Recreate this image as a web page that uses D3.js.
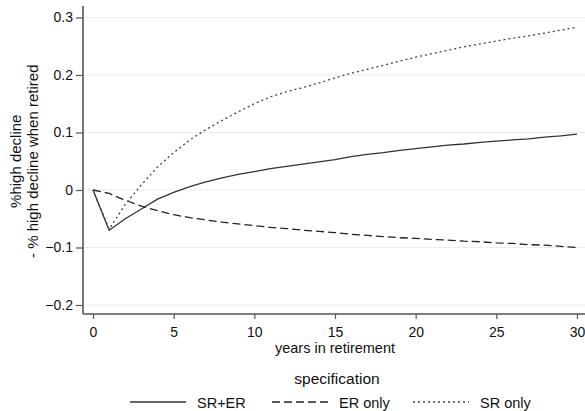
<!DOCTYPE html>
<html>
<head>
<meta charset="utf-8">
<script src="https://cdn.jsdelivr.net/npm/d3@7"></script>
<style>
  body { margin: 0; background: #fff; }
  svg { display: block; font-family: "Liberation Sans", Arial, sans-serif; }
</style>
</head>
<body>
<div id="chart"></div>
<script>
// years 0..30, one value per year
const years = d3.range(0, 31);

const srEr = [0, -0.070, -0.050, -0.033, -0.016, -0.004, 0.006, 0.014, 0.021, 0.027,
  0.032, 0.037, 0.041, 0.045, 0.049, 0.053, 0.058, 0.062, 0.065, 0.069,
  0.072, 0.075, 0.078, 0.080, 0.083, 0.085, 0.087, 0.089, 0.092, 0.094, 0.097];

const erOnly = [0, -0.006, -0.018, -0.028, -0.036, -0.043, -0.048, -0.052, -0.056, -0.059,
  -0.062, -0.065, -0.067, -0.070, -0.072, -0.074, -0.077, -0.079, -0.081, -0.083,
  -0.084, -0.086, -0.087, -0.089, -0.090, -0.092, -0.093, -0.095, -0.096, -0.098, -0.100];

const srOnly = [0, -0.068, -0.025, 0.009, 0.040, 0.065, 0.087, 0.105, 0.121, 0.136,
  0.150, 0.162, 0.171, 0.178, 0.186, 0.195, 0.203, 0.210, 0.217, 0.224,
  0.231, 0.237, 0.243, 0.249, 0.254, 0.259, 0.264, 0.268, 0.273, 0.278, 0.283];

const xTicks = [0, 5, 10, 15, 20, 25, 30];
const yTicks = [-0.2, -0.1, 0, 0.1, 0.2, 0.3];

const seriesNames = ['SR+ER', 'ER only', 'SR only'];
const seriesData  = [srEr, erOnly, srOnly];

const W = 585, H = 411;
const plot = { left: 83, right: 585, top: 6, bottom: 314 };

const svg = d3.select('#chart').append('svg')
  .attr('width', W).attr('height', H);

const x = d3.scaleLinear().domain([0, 30]).range([93, 577]);
const y = d3.scaleLinear().domain([-0.2, 0.3]).range([305, 17.5]);

const styles = {
  'SR+ER':   { stroke: '#333', dash: null,  width: 1.3 },
  'ER only': { stroke: '#222', dash: '8,4', width: 1.3 },
  'SR only': { stroke: '#444', dash: '2,3', width: 1.3 },
};

// grid
svg.append('g').selectAll('line').data(yTicks).join('line')
  .attr('x1', plot.left).attr('x2', plot.right)
  .attr('y1', d => y(d)).attr('y2', d => y(d))
  .attr('stroke', '#e6eeef').attr('stroke-width', 1);

// series
const line = d3.line().x((d, i) => x(years[i])).y(d => y(d));
seriesNames.forEach((name, k) => {
  const s = styles[name];
  svg.append('path').datum(seriesData[k])
    .attr('d', line)
    .attr('fill', 'none')
    .attr('stroke', s.stroke)
    .attr('stroke-width', s.width)
    .attr('stroke-dasharray', s.dash);
});

// axes
const axisColor = '#555';
const yAxis = svg.append('g').attr('transform', `translate(${plot.left},0)`)
  .call(d3.axisLeft(y).tickValues(yTicks).tickSize(7).tickPadding(3)
    .tickFormat(d => d === 0 ? '0' : d3.format('.1f')(d)));
yAxis.select('.domain').remove();
yAxis.append('line').attr('y1', plot.top).attr('y2', plot.bottom)
  .attr('stroke', axisColor).attr('stroke-width', 1.6);

const xAxis = svg.append('g').attr('transform', `translate(0,${plot.bottom})`)
  .call(d3.axisBottom(x).tickValues(xTicks).tickSize(5).tickPadding(8));
xAxis.select('.domain').remove();
xAxis.append('line').attr('x1', plot.left).attr('x2', plot.right)
  .attr('stroke', axisColor).attr('stroke-width', 1.6);

[yAxis, xAxis].forEach(a => {
  a.selectAll('.tick line').attr('stroke', axisColor).attr('stroke-width', 1.2);
  a.selectAll('.tick text').attr('fill', '#111')
    .style('font-size', '14px').style('font-family', '"Liberation Sans", Arial, sans-serif');
});

// axis titles
svg.append('text')
  .attr('x', (x(0) + x(30)) / 2).attr('y', 353)
  .attr('text-anchor', 'middle').attr('fill', '#111')
  .style('font-size', '14.5px')
  .text('years in retirement');

const yt = svg.append('text')
  .attr('transform', `translate(0,${(y(-0.2) + y(0.3)) / 2}) rotate(-90)`)
  .attr('text-anchor', 'middle').attr('fill', '#111')
  .style('font-size', '15px');
yt.append('tspan').attr('x', 0).attr('y', 21).text('%high decline');
yt.append('tspan').attr('x', 0).attr('y', 38).text('- % high decline when retired');

// legend
svg.append('text')
  .attr('x', 337).attr('y', 384)
  .attr('text-anchor', 'middle').attr('fill', '#111')
  .style('font-size', '15.5px')
  .text('specification');

const legendX = [130, 272, 413];
seriesNames.forEach((name, k) => {
  const s = styles[name];
  const g = svg.append('g').attr('transform', `translate(${legendX[k]},402)`);
  g.append('line').attr('x1', 0).attr('x2', 56).attr('y1', 0).attr('y2', 0)
    .attr('stroke', s.stroke).attr('stroke-width', s.width)
    .attr('stroke-dasharray', s.dash);
  g.append('text').attr('x', 67).attr('y', 5.5)
    .attr('fill', '#111').style('font-size', '14.5px')
    .text(name);
});
</script>
</body>
</html>
